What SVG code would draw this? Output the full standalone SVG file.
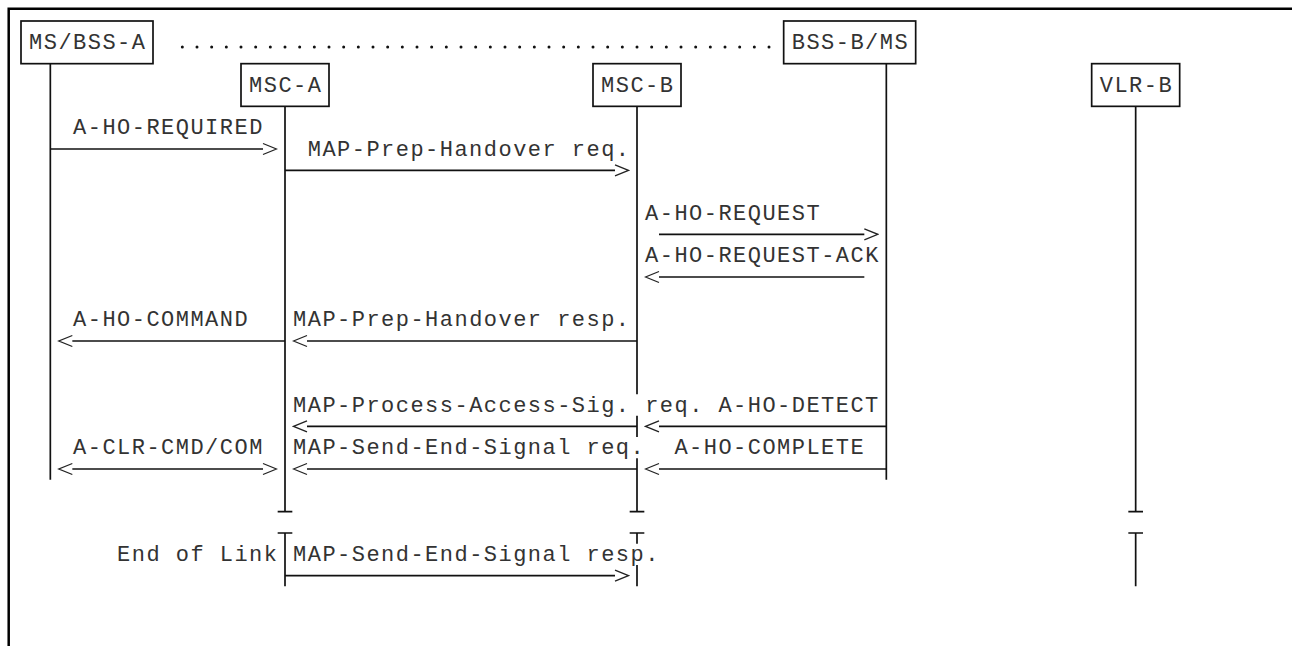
<svg xmlns="http://www.w3.org/2000/svg" width="1292" height="646" viewBox="0 0 1292 646">
  <style>
    .bg { fill: #ffffff; }
    .frame { fill: none; stroke: #000; stroke-width: 2.5; }
    .box { fill: #ffffff; stroke: #111; stroke-width: 1.7; }
    .life { fill: none; stroke: #111; stroke-width: 1.7; }
    .msg { fill: none; stroke: #111; stroke-width: 1.6; }
    .dots { fill: none; stroke: #111; stroke-width: 3; stroke-linecap: round; stroke-dasharray: 0 14.667; }
    text { font-family: "Liberation Mono", "DejaVu Sans Mono", monospace; font-size: 22px; letter-spacing: 1.47px; fill: #333; }
  </style>
  <defs>
    <marker id="chev" viewBox="-1 -7 16 14" refX="0" refY="0" markerWidth="16" markerHeight="14" markerUnits="userSpaceOnUse" orient="auto-start-reverse">
      <path d="M0,-5.5 L13.5,0 L0,5.5" fill="none" stroke="#222" stroke-width="1.3"/>
    </marker>
  </defs>
  <rect class="bg" x="0" y="0" width="1292" height="646"/>
  <path class="frame" d="M8.7,646 V8.7 H1292"/>

  <g id="ms-bss-a">
    <path class="life" d="M50.33,63.67 V479.67"/>
    <rect class="box" x="21" y="21" width="132" height="42.67"/>
    <text x="29.07" y="49.1">MS/BSS-A</text>
  </g>
  <g id="bss-b-ms">
    <path class="life" d="M886.33,63.67 V479.67"/>
    <rect class="box" x="783.67" y="21" width="132" height="42.67"/>
    <text x="791.73" y="49.1">BSS-B/MS</text>
  </g>
  <g id="msc-a">
    <path class="life" d="M285,106.33 V511.67 M277.67,511.67 H292.33 M277.67,533 H292.33 M285,533 V586.33"/>
    <rect class="box" x="241" y="63.67" width="88" height="42.67"/>
    <text x="249.07" y="91.8">MSC-A</text>
  </g>
  <g id="msc-b">
    <path class="life" d="M637,106.33 V394.33 M637,415.67 V437 M637,458.33 V511.67 M629.67,511.67 H644.33 M629.67,533 H644.33 M637,533 V543.67 M637,565 V586.33"/>
    <rect class="box" x="593" y="63.67" width="88" height="42.67"/>
    <text x="601.07" y="91.8">MSC-B</text>
  </g>
  <g id="vlr-b">
    <path class="life" d="M1135.67,106.33 V511.67 M1128.33,511.67 H1143 M1128.33,533 H1143 M1135.67,533 V586.33"/>
    <rect class="box" x="1091.67" y="63.67" width="88" height="42.67"/>
    <text x="1099.73" y="91.8">VLR-B</text>
  </g>

  <g id="connectors">
    <path class="dots" d="M182.33,47 H775"/>

    <g id="m1">
      <path class="msg" d="M50.33,149 H263" marker-end="url(#chev)"/>
      <text x="73.07" y="134.47">A-HO-REQUIRED</text>
    </g>
    <g id="m2">
      <path class="msg" d="M285,170.33 H615" marker-end="url(#chev)"/>
      <text x="307.73" y="155.8">MAP-Prep-Handover req.</text>
    </g>
    <g id="m3">
      <path class="msg" d="M659,234.33 H864.33" marker-end="url(#chev)"/>
      <text x="645.07" y="219.8">A-HO-REQUEST</text>
    </g>
    <g id="m4">
      <path class="msg" d="M864.33,277 H659" marker-end="url(#chev)"/>
      <text x="645.07" y="262.47">A-HO-REQUEST-ACK</text>
    </g>
    <g id="m5">
      <path class="msg" d="M285,341 H72.33" marker-end="url(#chev)"/>
      <text x="73.07" y="326.47">A-HO-COMMAND</text>
    </g>
    <g id="m6">
      <path class="msg" d="M637,341 H307" marker-end="url(#chev)"/>
      <text x="293.07" y="326.47">MAP-Prep-Handover resp.</text>
    </g>
    <g id="m7">
      <path class="msg" d="M637,426.33 H307" marker-end="url(#chev)"/>
      <text x="293.07" y="411.8">MAP-Process-Access-Sig. req.</text>
    </g>
    <g id="m8">
      <path class="msg" d="M886.33,426.33 H659" marker-end="url(#chev)"/>
      <text x="718.4" y="411.8">A-HO-DETECT</text>
    </g>
    <g id="m9">
      <path class="msg" d="M72.33,469 H263" marker-start="url(#chev)" marker-end="url(#chev)"/>
      <text x="73.07" y="454.47">A-CLR-CMD/COM</text>
    </g>
    <g id="m10">
      <path class="msg" d="M637,469 H307" marker-end="url(#chev)"/>
      <text x="293.07" y="454.47">MAP-Send-End-Signal req.</text>
    </g>
    <g id="m11">
      <path class="msg" d="M886.33,469 H659" marker-end="url(#chev)"/>
      <text x="674.4" y="454.47">A-HO-COMPLETE</text>
    </g>
    <g id="m12">
      <path class="msg" d="M285,575.67 H615" marker-end="url(#chev)"/>
      <text x="293.07" y="561.13">MAP-Send-End-Signal resp.</text>
    </g>
    <text x="117.07" y="561.13">End of Link</text>
  </g>
</svg>
